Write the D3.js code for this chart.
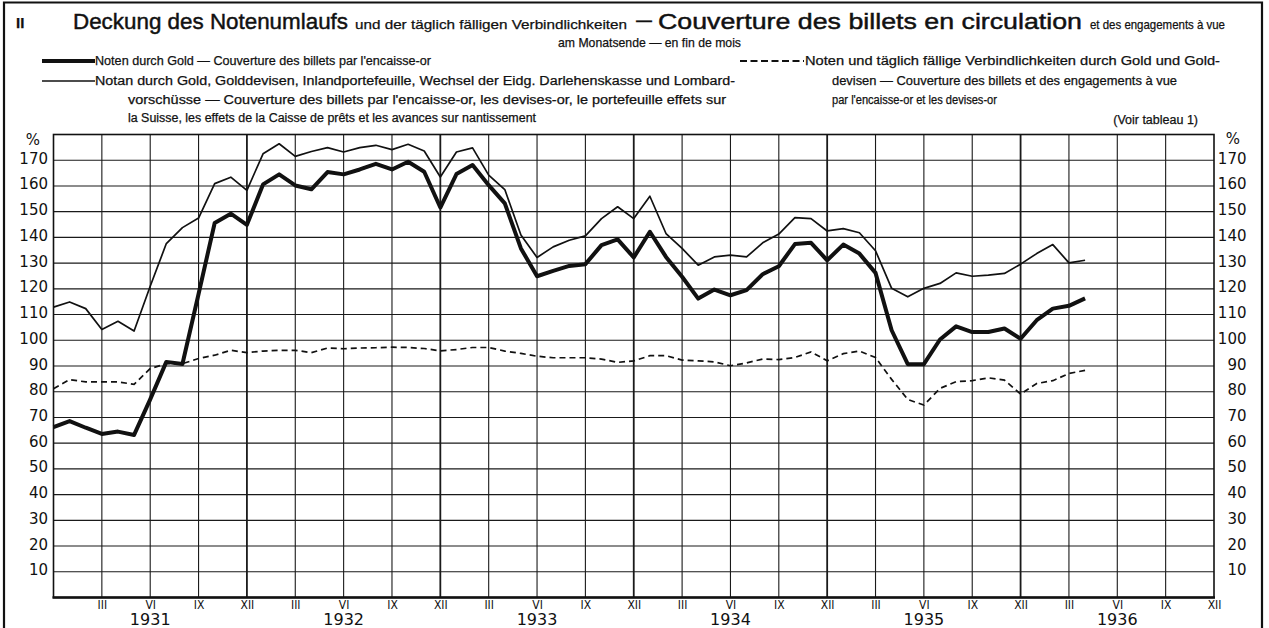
<!DOCTYPE html>
<html>
<head>
<meta charset="utf-8">
<script src="https://cdn.jsdelivr.net/npm/d3@7"></script>
<style>
  html, body { margin: 0; padding: 0; background: #fff; }
  svg { display: block; }
  .t { font-family: "Liberation Sans", Arial, sans-serif; fill: #111; stroke: #111; stroke-width: 0.25px; }
  .num { font-family: "DejaVu Sans", sans-serif; fill: #111; }
  .rom { font-family: "Liberation Sans Narrow", "DejaVu Sans Condensed", sans-serif; fill: #111; }
</style>
</head>
<body>
<div id="chart"></div>
<script>
// month index 0 = end of Dec 1930, one value per month end
const goldNotes = [66.2, 68.6, 66.0, 63.6, 64.5, 63.2, 77, 91.6, 90.8, 118, 145.6, 149.2, 144.9,
  160.6, 164.5, 160.2, 158.7, 165.4, 164.5, 166.4, 168.6, 166.4, 169.4, 165.5, 151.6,
  164.6, 168.1, 160.3, 153.2, 135.7, 124.9, 127.0, 128.9, 129.6, 137.0, 139.2, 132.2,
  142.2, 132.4, 124.7, 116.2, 119.7, 117.5, 119.5, 125.7, 128.8, 137.4, 137.9, 131.1,
  137.2, 133.7, 126.2, 103.9, 90.7, 90.7, 100.3, 105.4, 103.2, 103.2, 104.6, 100.6,
  107.8, 112.3, 113.4, 116.3];

const allAssets = [112.9, 114.9, 112.3, 104.2, 107.4, 103.6, 121, 137.6, 143.8, 147.5, 160.9, 163.4, 158.3,
  172.5, 176.4, 171.5, 173.4, 174.9, 173.2, 174.9, 175.8, 174.1, 176.2, 173.6, 163.5,
  173.2, 174.8, 164.2, 158.6, 140.9, 132.2, 136.3, 138.9, 140.6, 147.3, 151.9, 147.3,
  156.0, 141.5, 135.7, 129.2, 132.4, 133.1, 132.4, 137.9, 141.3, 147.7, 147.3, 142.5,
  143.4, 141.8, 134.8, 120.2, 116.9, 120.2, 122.1, 126.2, 124.9, 125.3, 126.0, 129.6,
  133.7, 137.2, 130.1, 131.1];

const goldAndDevisen = [81.2, 84.7, 83.8, 83.8, 83.8, 82.9, 89.0, 90.9, 90.9, 92.9, 94.2, 96.1, 95.2,
  95.8, 96.1, 96.1, 95.2, 97.0, 96.7, 97.0, 97.1, 97.3, 97.2, 96.8, 95.9,
  96.4, 97.2, 97.2, 95.8, 94.9, 93.8, 93.2, 93.2, 93.2, 92.7, 91.4, 92.0,
  94.0, 94.0, 92.3, 92.0, 91.6, 90.1, 91.2, 92.7, 92.5, 93.3, 95.5, 92.0,
  94.8, 95.8, 93.3, 84.8, 77.0, 74.8, 81.3, 83.9, 84.3, 85.4, 84.5, 79.1,
  83.2, 84.3, 87.1, 88.3];

const romanTicks = ["III", "VI", "IX", "XII"];
const years = ["1931", "1932", "1933", "1934", "1935", "1936"];
const yTicks = [10, 20, 30, 40, 50, 60, 70, 80, 90, 100, 110, 120, 130, 140, 150, 160, 170];

const width = 1269;
const height = 628;

const svg = d3.select("#chart").append("svg")
  .attr("width", width)
  .attr("height", height);

const x = d3.scaleLinear().domain([0, 72]).range([53.5, 1214]);
const y = d3.scaleLinear().domain([0, 180]).range([597.5, 134.5]);

// outer frame
svg.append("path")
  .attr("d", "M4,640 V2.5 H1262 V640")
  .attr("fill", "none")
  .attr("stroke", "#111")
  .attr("stroke-width", 2.2);

// helper for a text piece fitted to a measured width
const piece = (px, py, size, str, len, anchor) => {
  const t = svg.append("text").attr("class", "t")
    .attr("x", px).attr("y", py)
    .attr("text-anchor", anchor || "start")
    .style("font-size", size + "px")
    .text(str);
  if (len) t.attr("textLength", len).attr("lengthAdjust", "spacingAndGlyphs");
  return t;
};

// title
piece(16, 28, 15, "II").style("font-weight", "bold");
piece(73, 29, 22, "Deckung des Notenumlaufs", 275).style("stroke-width", "0.45px");
piece(355, 29, 13, "und der täglich fälligen Verbindlichkeiten", 272);
piece(636, 27, 22, "—", 16);
piece(658, 29, 22, "Couverture des billets en circulation", 424).style("stroke-width", "0.45px");
piece(1090, 29, 13, "et des engagements à vue", 135);
piece(558, 47, 13, "am Monatsende — en fin de mois", 183);

// legend
svg.append("line").attr("x1", 42).attr("x2", 95).attr("y1", 61).attr("y2", 61)
  .attr("stroke", "#111").attr("stroke-width", 4);
svg.append("line").attr("x1", 42).attr("x2", 95).attr("y1", 81).attr("y2", 81)
  .attr("stroke", "#111").attr("stroke-width", 1.6);
svg.append("line").attr("x1", 740).attr("x2", 804).attr("y1", 61).attr("y2", 61)
  .attr("stroke", "#111").attr("stroke-width", 1.8).attr("stroke-dasharray", "7,3.5");

piece(95, 65, 12.5, "Noten durch Gold — Couverture des billets par l'encaisse-or", 336);
piece(95, 85, 12.5, "Notan durch Gold, Golddevisen, Inlandportefeuille, Wechsel der Eidg. Darlehenskasse und Lombard-", 640);
piece(128, 104, 12.5, "vorschüsse — Couverture des billets par l'encaisse-or, les devises-or, le portefeuille effets sur", 598);
piece(128, 122, 12.5, "la Suisse, les effets de la Caisse de prêts et les avances sur nantissement", 408);
piece(805, 65, 12.5, "Noten und täglich fällige Verbindlichkeiten durch Gold und Gold-", 415);
piece(832, 85, 12.5, "devisen — Couverture des billets et des engagements à vue", 345);
piece(832, 104, 12.5, "par l'encaisse-or et les devises-or", 165);
piece(1198, 124, 12.5, "(Voir tableau 1)", null, "end");

// grid
const grid = svg.append("g").attr("stroke", "#1a1a1a");
grid.selectAll("line.h")
  .data(yTicks)
  .join("line")
  .attr("class", "h")
  .attr("x1", x(0)).attr("x2", x(72))
  .attr("y1", d => y(d)).attr("y2", d => y(d))
  .attr("stroke-width", 1.1);

const monthTicks = d3.range(3, 72, 3);
grid.selectAll("line.v")
  .data(monthTicks)
  .join("line")
  .attr("class", "v")
  .attr("x1", d => x(d)).attr("x2", d => x(d))
  .attr("y1", y(180)).attr("y2", y(0))
  .attr("stroke-width", d => d % 12 === 0 ? 1.8 : 1.1);

// plot border
svg.append("rect")
  .attr("x", x(0)).attr("y", y(180))
  .attr("width", x(72) - x(0)).attr("height", y(0) - y(180))
  .attr("fill", "none").attr("stroke", "#111").attr("stroke-width", 1.6);
svg.append("line")
  .attr("x1", x(0) - 1).attr("x2", x(72) + 1).attr("y1", y(0)).attr("y2", y(0))
  .attr("stroke", "#111").attr("stroke-width", 2.6);

// y axis labels, both sides
const yLeft = d3.axisLeft(y).tickValues(yTicks).tickSize(0).tickPadding(5);
const yRight = d3.axisRight(y).tickValues(yTicks).tickSize(0).tickPadding(5);

const gl = svg.append("g").attr("transform", `translate(${x(0) - 0.5},0)`).call(yLeft);
const gr = svg.append("g").attr("transform", `translate(${x(72) - 0.5},0)`).call(yRight);
[gl, gr].forEach(g => {
  g.select(".domain").remove();
  g.selectAll("text")
    .attr("class", "num")
    .attr("dy", "0.2em")
    .style("font-size", "15px");
});
gr.selectAll("text").attr("text-anchor", "end").attr("x", 1247 - x(72));

svg.append("text").attr("class", "num").attr("x", 33).attr("y", 145)
  .attr("text-anchor", "middle").style("font-size", "15px").text("%");
svg.append("text").attr("class", "num").attr("x", 1233).attr("y", 144)
  .attr("text-anchor", "middle").style("font-size", "15px").text("%");

// month ticks (roman) and years
const xAxis = d3.axisBottom(x)
  .tickValues(d3.range(3, 73, 3))
  .tickSize(0)
  .tickPadding(3)
  .tickFormat(d => romanTicks[(d / 3 - 1) % 4]);
const gx = svg.append("g").attr("transform", `translate(0,${y(0)})`).call(xAxis);
gx.select(".domain").remove();
gx.selectAll("text")
  .attr("class", "rom")
  .style("font-size", "12px");

svg.append("g").selectAll("text")
  .data(years)
  .join("text")
  .attr("class", "num")
  .attr("x", (d, i) => x(6 + i * 12))
  .attr("y", 625)
  .attr("text-anchor", "middle")
  .style("font-size", "16px")
  .text(d => d);

// series
const line = d3.line()
  .x((d, i) => x(i))
  .y(d => y(d));

svg.append("path")
  .datum(goldAndDevisen)
  .attr("fill", "none")
  .attr("stroke", "#111")
  .attr("stroke-width", 1.7)
  .attr("stroke-dasharray", "6,4")
  .attr("d", line);

svg.append("path")
  .datum(allAssets)
  .attr("fill", "none")
  .attr("stroke", "#111")
  .attr("stroke-width", 1.7)
  .attr("stroke-linejoin", "round")
  .attr("d", line);

svg.append("path")
  .datum(goldNotes)
  .attr("fill", "none")
  .attr("stroke", "#111")
  .attr("stroke-width", 4)
  .attr("stroke-linejoin", "round")
  .attr("d", line);
</script>
</body>
</html>
